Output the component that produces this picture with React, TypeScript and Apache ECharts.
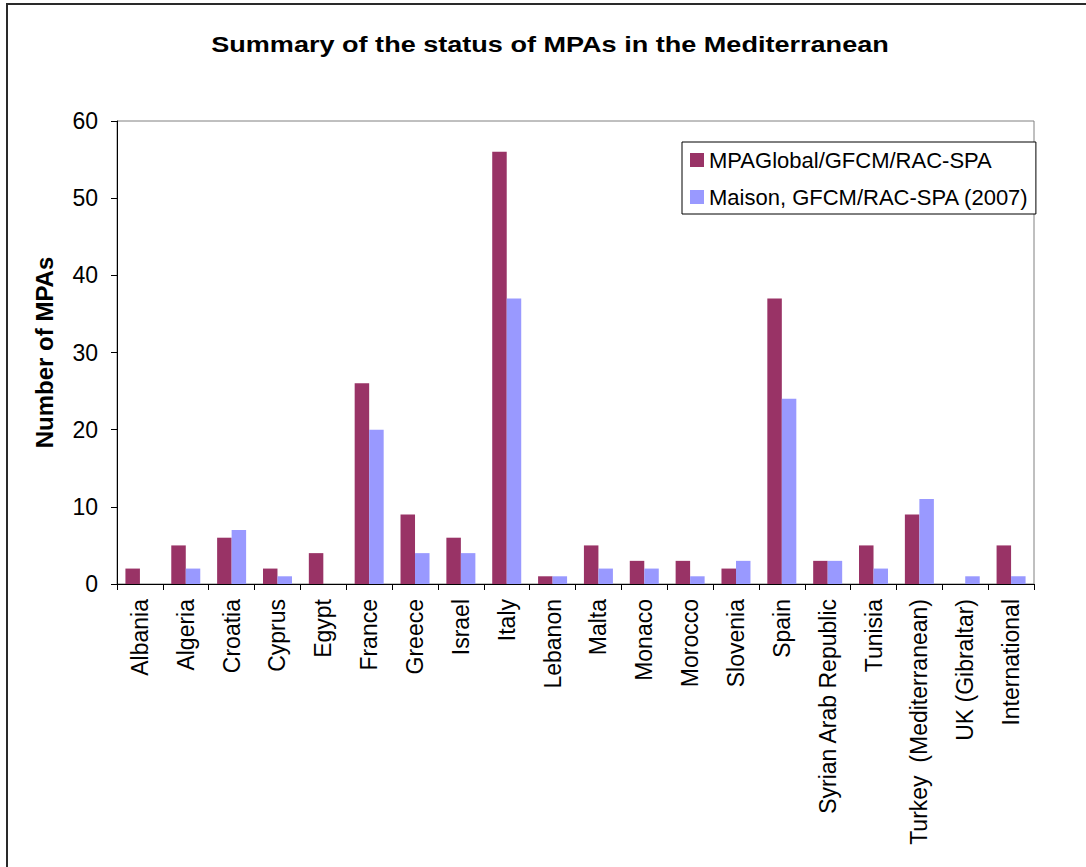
import React, { useEffect, useRef } from "react";
import * as echarts from "echarts";

const categories = [
  "Albania", "Algeria", "Croatia", "Cyprus", "Egypt", "France", "Greece", "Israel", "Italy", "Lebanon",
  "Malta", "Monaco", "Morocco", "Slovenia", "Spain", "Syrian Arab Republic", "Tunisia",
  "Turkey  (Mediterranean)", "UK (Gibraltar)", "International",
];
const mpaGlobal = [2, 5, 6, 2, 4, 26, 9, 6, 56, 1, 5, 3, 3, 2, 37, 3, 5, 9, 0, 5];
const maison = [0, 2, 7, 1, 0, 20, 4, 4, 37, 1, 2, 2, 1, 3, 24, 3, 2, 11, 1, 1];
const seriesNames = ["MPAGlobal/GFCM/RAC-SPA", "Maison, GFCM/RAC-SPA (2007)"];
const yTicks = { min: 0, max: 60, interval: 10 };
const titleText = "Summary of the status of MPAs in the Mediterranean";
const yAxisTitle = "Number of MPAs";

const FONT = "'Liberation Sans', Arial, sans-serif";

export default function App() {
  const ref = useRef<HTMLDivElement>(null);
  useEffect(() => {
    const chart = echarts.init(ref.current!, null, { renderer: "svg" });
    chart.setOption({
      animation: false,
      backgroundColor: "#ffffff",
      textStyle: { fontFamily: FONT, color: "#000" },
      graphic: [
        {
          type: "rect",
          x: 7,
          y: 4,
          shape: { x: 0, y: 0, width: 1200, height: 1000 },
          style: { fill: "none", stroke: "#2a2a2a", lineWidth: 2 },
          silent: true,
          z: 100,
        },
        {
          type: "text",
          x: 550,
          y: 44,
          scaleX: 1.23,
          style: {
            text: titleText,
            fontFamily: FONT,
            fontSize: 22,
            fontWeight: "bold",
            fill: "#000",
            align: "center",
            verticalAlign: "middle",
          },
          silent: true,
        },
      ],
      legend: {
        orient: "vertical",
        left: 682,
        top: 142,
        padding: [7, 7, 6, 8],
        itemGap: 15,
        itemWidth: 14,
        itemHeight: 14,
        borderColor: "#000",
        borderWidth: 1,
        backgroundColor: "#fff",
        icon: "rect",
        textStyle: { fontFamily: FONT, fontSize: 22, color: "#000", lineHeight: 22 },
        data: seriesNames,
      },
      grid: {
        left: 117,
        top: 121,
        right: 52,
        bottom: 283,
        containLabel: false,
        outerBoundsMode: "none",
        show: true,
        borderColor: "#808080",
        borderWidth: 1,
        backgroundColor: "transparent",
      },
      xAxis: {
        type: "category",
        data: categories,
        boundaryGap: true,
        axisLine: { lineStyle: { color: "#000", width: 1 } },
        axisTick: { show: true, length: 6, interval: 0, lineStyle: { color: "#000" } },
        axisLabel: {
          interval: 0,
          rotate: 90,
          fontSize: 23,
          fontFamily: FONT,
          color: "#000",
          margin: 15,
        },
      },
      yAxis: {
        type: "value",
        min: yTicks.min,
        max: yTicks.max,
        interval: yTicks.interval,
        name: yAxisTitle,
        nameLocation: "middle",
        nameGap: 61,
        nameTextStyle: { fontFamily: FONT, fontSize: 24, fontWeight: "bold", color: "#000" },
        axisLine: { show: true, lineStyle: { color: "#000", width: 1 } },
        axisTick: { show: true, length: 6, lineStyle: { color: "#000" } },
        splitLine: { show: false },
        axisLabel: { fontSize: 23, fontFamily: FONT, color: "#000", margin: 19 },
      },
      series: [
        {
          name: seriesNames[0],
          type: "bar",
          data: mpaGlobal,
          barWidth: 14.5,
          barGap: "0%",
          itemStyle: { color: "#993366" },
        },
        {
          name: seriesNames[1],
          type: "bar",
          data: maison,
          barWidth: 14.5,
          barGap: "0%",
          itemStyle: { color: "#9999ff" },
        },
      ],
    });
    return () => chart.dispose();
  }, []);
  return (
    <div
      ref={ref}
      style={{ position: "absolute", left: 0, top: 0, width: 1086, height: 867 }}
    />
  );
}
